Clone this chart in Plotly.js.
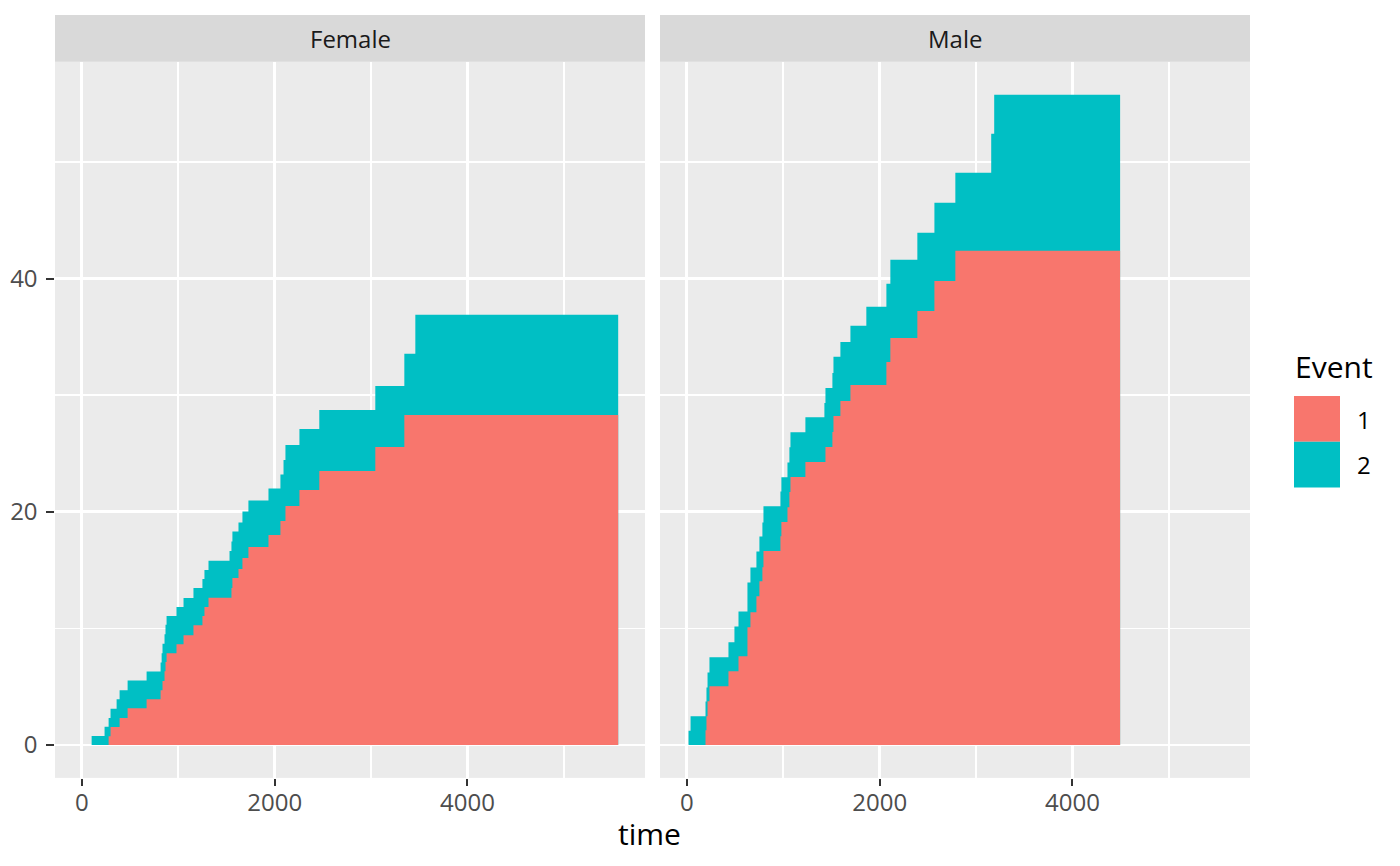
<!DOCTYPE html>
<html>
<head>
<meta charset="utf-8">
<script src="https://cdn.plot.ly/plotly-3.0.1.min.js"></script>
<style>
  html, body { margin: 0; padding: 0; background: #ffffff; }
  #chart { width: 1400px; height: 866px; }
</style>
</head>
<body>
<div id="chart"></div>
<script>
// ---- Data (cumulative incidence, %) ----
const panels = ["Female", "Male"];
const eventLabels = ["1", "2"];
const eventColors = ["#F8766D", "#00BFC4"];

const femaleEvent1Time = [278, 298, 392, 475, 672, 817, 837, 858, 868, 879, 982, 1055, 1158, 1251, 1272, 1314, 1552, 1562, 1625, 1666, 1728, 1936, 2060, 2112, 2257, 2463, 3044, 3345];
const femaleEvent1Cum  = [0.76, 1.55, 2.33, 3.16, 3.93, 4.70, 5.50, 6.33, 7.13, 7.88, 8.65, 9.42, 10.28, 11.06, 11.83, 12.63, 13.46, 14.32, 15.09, 16.03, 16.98, 18.01, 19.21, 20.50, 21.87, 23.50, 25.56, 28.31];
const femaleEvent2Time = [102, 236, 361, 828, 1532, 2092, 3459];
const femaleEvent2Cum  = [0.77, 1.56, 2.37, 3.18, 4.00, 5.24, 8.58];
const femaleEndTime = 5563;

const maleEvent1Time = [194, 204, 215, 235, 432, 536, 629, 660, 722, 753, 784, 795, 971, 981, 1044, 1064, 1075, 1230, 1438, 1510, 1521, 1593, 1697, 2070, 2111, 2391, 2568, 2785];
const maleEvent1Cum  = [1.26, 2.46, 3.75, 5.04, 6.33, 7.61, 10.10, 11.39, 12.76, 14.05, 15.25, 16.63, 17.91, 19.12, 20.40, 21.69, 22.98, 24.27, 25.55, 26.84, 28.22, 29.50, 30.88, 32.85, 34.91, 37.23, 39.80, 42.38];
const maleEvent2Time = [18, 39, 494, 1427, 1862, 3157, 3188];
const maleEvent2Cum  = [1.22, 2.48, 3.84, 5.07, 6.70, 10.04, 13.39];
const maleEndTime = 4494;

const xTickVals = [0, 2000, 4000];
const xMinorVals = [1000, 3000, 5000];
const yTickVals = [0, 20, 40];
const yMinorVals = [10, 30, 50];

// ---- Helpers ----
function stepAt(times, vals, t) {
  let v = 0;
  for (let i = 0; i < times.length; i++) { if (times[i] <= t) v = vals[i]; }
  return v;
}
function stackedSteps(t1, v1, t2, v2, endT) {
  const set = new Set([0, endT].concat(t1, t2));
  const xs = Array.from(set).sort((a, b) => a - b);
  const e1 = xs.map(t => stepAt(t1, v1, t));
  const tot = xs.map(t => stepAt(t1, v1, t) + stepAt(t2, v2, t));
  return { xs, e1, tot };
}

const W = 1400, H = 866;
const px = x => x / W;
const py = y => (H - y) / H;

const panelData = [
  stackedSteps(femaleEvent1Time, femaleEvent1Cum, femaleEvent2Time, femaleEvent2Cum, femaleEndTime),
  stackedSteps(maleEvent1Time, maleEvent1Cum, maleEvent2Time, maleEvent2Cum, maleEndTime)
];

const traces = [];
panelData.forEach((d, i) => {
  const xa = i === 0 ? 'x' : 'x2';
  const ya = i === 0 ? 'y' : 'y2';
  traces.push({
    x: d.xs, y: d.tot, xaxis: xa, yaxis: ya, type: 'scatter', mode: 'lines',
    line: { shape: 'hv', width: 0, color: eventColors[1] },
    fill: 'tozeroy', fillcolor: eventColors[1], name: eventLabels[1],
    showlegend: false, hoverinfo: 'skip'
  });
  traces.push({
    x: d.xs, y: d.e1, xaxis: xa, yaxis: ya, type: 'scatter', mode: 'lines',
    line: { shape: 'hv', width: 0, color: eventColors[0] },
    fill: 'tozeroy', fillcolor: eventColors[0], name: eventLabels[0],
    showlegend: false, hoverinfo: 'skip'
  });
});

const FONT = "Open Sans, Noto Sans, DejaVu Sans, sans-serif";
const xRange = [-278, 5841];
const yRange = [-2.8, 58.6];
const yDomain = [py(777.7), py(61.7)];

function xAxis(domain, anchor) {
  return {
    domain: domain, anchor: anchor, range: xRange, showgrid: true,
    gridcolor: '#FFFFFF', gridwidth: 2.9, zeroline: false, showline: false,
    tickmode: 'array', tickvals: xTickVals, ticktext: xTickVals.map(String),
    ticks: 'outside', ticklen: 7.6, tickwidth: 2, tickcolor: '#333333',
    tickfont: { family: FONT, size: 24, color: '#4D4D4D' },
    ticklabelstandoff: -4,
    minor: { tickmode: 'array', tickvals: xMinorVals, showgrid: true, gridcolor: '#FFFFFF', gridwidth: 1.5, ticks: '' },
    fixedrange: true
  };
}
function yAxis(anchor, showLabels) {
  return {
    domain: yDomain, anchor: anchor, range: yRange, showgrid: true,
    gridcolor: '#FFFFFF', gridwidth: 2.9, zeroline: false, showline: false,
    tickmode: 'array', tickvals: yTickVals, ticktext: yTickVals.map(String),
    ticks: showLabels ? 'outside' : '', ticklen: 7.6, tickwidth: 2, tickcolor: '#333333',
    showticklabels: showLabels,
    tickfont: { family: FONT, size: 24, color: '#4D4D4D' },
    ticklabelstandoff: 4,
    minor: { tickmode: 'array', tickvals: yMinorVals, showgrid: true, gridcolor: '#FFFFFF', gridwidth: 1.5, ticks: '' },
    fixedrange: true
  };
}

const shapes = [];
const annotations = [];
const panelX = [[55, 645], [660, 1250]];
panelX.forEach((p, i) => {
  // panel background
  shapes.push({ type: 'rect', xref: 'paper', yref: 'paper', layer: 'below',
    x0: px(p[0]), x1: px(p[1]), y0: py(777.7), y1: py(61.7),
    fillcolor: '#EBEBEB', line: { width: 0 } });
  // strip
  shapes.push({ type: 'rect', xref: 'paper', yref: 'paper',
    x0: px(p[0]), x1: px(p[1]), y0: py(61.7), y1: py(15),
    fillcolor: '#D9D9D9', line: { width: 0 } });
  annotations.push({ xref: 'paper', yref: 'paper', x: px((p[0] + p[1]) / 2), y: py(38.5),
    text: panels[i], showarrow: false, xanchor: 'center', yanchor: 'middle',
    font: { family: FONT, size: 24, color: '#1A1A1A' } });
});

// x axis title
annotations.push({ xref: 'paper', yref: 'paper', x: px(649), y: py(833),
  text: 'time', showarrow: false, xanchor: 'center', yanchor: 'middle',
  font: { family: FONT, size: 30, color: '#000000' } });

// legend (drawn)
annotations.push({ xref: 'paper', yref: 'paper', x: px(1293), y: py(367),
  text: 'Event', showarrow: false, xanchor: 'left', yanchor: 'middle',
  font: { family: FONT, size: 30, color: '#000000' } });
const keyTop = [396, 441.8];
eventLabels.forEach((lab, i) => {
  shapes.push({ type: 'rect', xref: 'paper', yref: 'paper',
    x0: px(1294), x1: px(1340), y0: py(keyTop[i] + 45.8), y1: py(keyTop[i]),
    fillcolor: eventColors[i], line: { width: 0 } });
  annotations.push({ xref: 'paper', yref: 'paper', x: px(1355), y: py(keyTop[i] + 23),
    text: lab, showarrow: false, xanchor: 'left', yanchor: 'middle',
    font: { family: FONT, size: 24, color: '#000000' } });
});

const layout = {
  width: W, height: H,
  margin: { l: 0, r: 0, t: 0, b: 0, pad: 0 },
  paper_bgcolor: '#FFFFFF', plot_bgcolor: '#EBEBEB',
  showlegend: false,
  xaxis: xAxis([px(55), px(645)], 'y'),
  xaxis2: xAxis([px(660), px(1250)], 'y2'),
  yaxis: yAxis('x', true),
  yaxis2: Object.assign(yAxis('x2', false), { matches: 'y' }),
  shapes: shapes,
  annotations: annotations,
  font: { family: FONT }
};

Plotly.newPlot('chart', traces, layout, { staticPlot: true, displayModeBar: false });
</script>
</body>
</html>
